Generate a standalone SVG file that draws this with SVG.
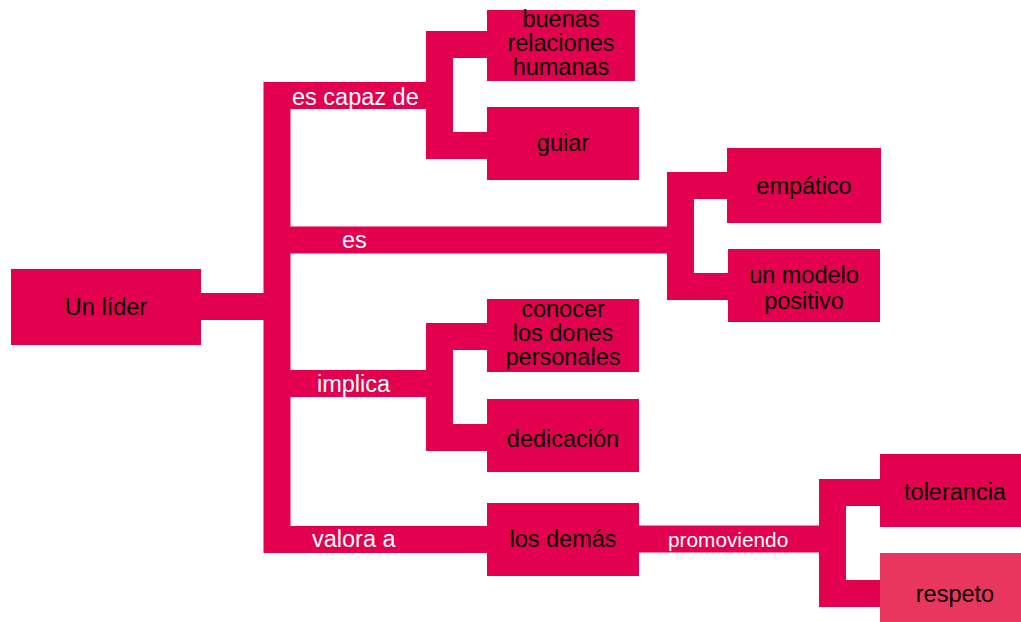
<svg xmlns="http://www.w3.org/2000/svg" width="1021" height="622" viewBox="0 0 1021 622">
<style>
.bar{fill:none;stroke:#E3004F;stroke-width:27;stroke-linecap:butt}
.box{fill:#E3004F}
.box2{fill:#E8365E}
.t{font-family:"Liberation Sans",Arial,sans-serif;font-size:23.5px;fill:#000;text-anchor:middle}
.lb{font-family:"Liberation Sans",Arial,sans-serif;font-size:23.5px;fill:#fff}
</style>
<rect width="1021" height="622" fill="#fff"/>
<g id="connectors">
<path class="bar" d="M200,306.5 H277 M277,82 V553"/>
<path class="bar" d="M277,95.5 H439.5 M439.5,31 V159 M439.5,44.5 H487 M439.5,145.5 H487"/>
<path class="bar" d="M277,240 H680.5 M680.5,172 V300 M680.5,185.5 H727 M680.5,286.5 H728"/>
<path class="bar" d="M277,383.5 H439.5 M439.5,323 V451 M439.5,336.5 H487 M439.5,437.5 H487"/>
<path class="bar" d="M277,539.5 H487"/>
<path class="bar" d="M638,539 H832.5 M832.5,479 V607 M832.5,492.5 H880 M832.5,593.5 H880"/>
<text class="lb" x="292" y="105">es capaz de</text>
<text class="lb" x="342" y="248">es</text>
<text class="lb" x="317" y="392">implica</text>
<text class="lb" x="312" y="547">valora a</text>
<text class="lb" x="668" y="547" style="font-size:20.8px">promoviendo</text>
</g>
<g id="n-lider"><rect class="box" x="11" y="269" width="190" height="76"/><text class="t" x="106" y="315">Un líder</text></g>
<g id="n-buenas"><rect class="box" x="487" y="10" width="148" height="71"/><text class="t" x="561" y="27">buenas</text><text class="t" x="561" y="51">relaciones</text><text class="t" x="561" y="75">humanas</text></g>
<g id="n-guiar"><rect class="box" x="487" y="107" width="152" height="73"/><text class="t" x="563" y="151">guiar</text></g>
<g id="n-empatico"><rect class="box" x="727" y="148" width="154" height="75"/><text class="t" x="804" y="194">empático</text></g>
<g id="n-modelo"><rect class="box" x="728" y="249" width="152" height="73"/><text class="t" x="804" y="283">un modelo</text><text class="t" x="804" y="309">positivo</text></g>
<g id="n-conocer"><rect class="box" x="487" y="299" width="152" height="73"/><text class="t" x="563" y="317">conocer</text><text class="t" x="563" y="341">los dones</text><text class="t" x="563" y="365">personales</text></g>
<g id="n-dedicacion"><rect class="box" x="487" y="399" width="152" height="73"/><text class="t" x="563" y="447">dedicación</text></g>
<g id="n-demas"><rect class="box" x="487" y="503" width="152" height="73"/><text class="t" x="563" y="547">los demás</text></g>
<g id="n-tolerancia"><rect class="box" x="880" y="454" width="141" height="73"/><text class="t" x="955" y="500">tolerancia</text></g>
<g id="n-respeto"><rect class="box2" x="880" y="553" width="141" height="69"/><text class="t" x="955" y="602">respeto</text></g>
</svg>
